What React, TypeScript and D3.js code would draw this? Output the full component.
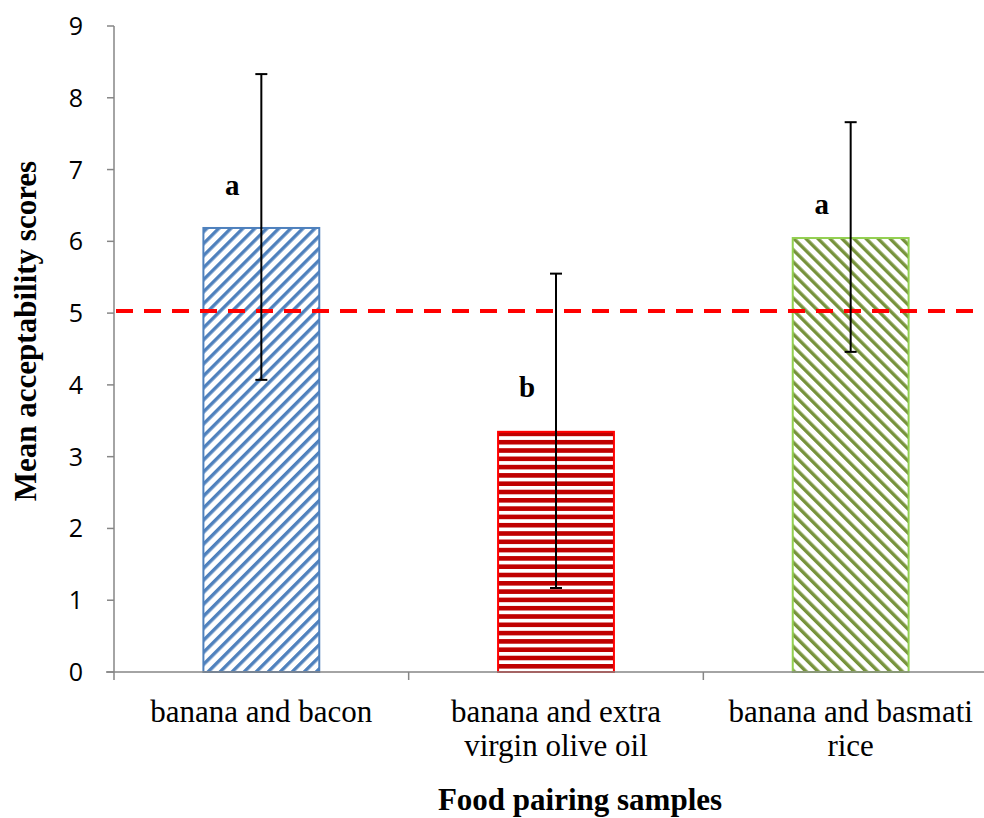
import React from 'react';
import * as d3 from 'd3';

const categories = ['banana and bacon', 'banana and extra virgin olive oil', 'banana and basmati rice'];
const labelLines = [['banana and bacon'], ['banana and extra', 'virgin olive oil'], ['banana and basmati', 'rice']];
const means = [6.2, 3.36, 6.06];
const errors = [2.13, 2.19, 1.6];
const letters = ['a', 'b', 'a'];
const letterValues = [6.77, 3.96, 6.5];
const yTicks = [0, 1, 2, 3, 4, 5, 6, 7, 8, 9];
const threshold = 5.03;

const W = 984;
const H = 818;
const left = 114;
const right = 998;
const top = 26;
const bottom = 672;
const serif = "'Liberation Serif', 'Times New Roman', serif";

export default function App() {
  const x = d3.scaleBand<string>().domain(categories).range([left, right]).paddingInner(0.6).paddingOuter(0.3);
  const band = d3.scaleBand<string>().domain(categories).range([left, right]);
  const y = d3.scaleLinear().domain([0, 9]).range([bottom, top]);
  const fills = ['url(#pBlue)', 'url(#pRed)', 'url(#pGreen)'];
  const strokes = ['#4F81BD', '#FF0000', '#92D050'];
  const axisColor = '#868686';
  const bw = x.bandwidth();

  return (
    <svg width={W} height={H} style={{ position: 'absolute', left: 0, top: 0 }}>
      <defs>
        <pattern id="pBlue" width="8.5" height="8.5" patternUnits="userSpaceOnUse" patternTransform="rotate(45)">
          <rect width="8.5" height="8.5" fill="white" />
          <rect width="3.4" height="8.5" fill="#4F81BD" />
        </pattern>
        <pattern id="pRed" width="8" height="8.3" patternUnits="userSpaceOnUse">
          <rect width="8" height="8.3" fill="white" />
          <rect width="8" height="4.6" fill="#C00000" />
        </pattern>
        <pattern id="pGreen" width="8.5" height="8.5" patternUnits="userSpaceOnUse" patternTransform="rotate(-45)">
          <rect width="8.5" height="8.5" fill="white" />
          <rect width="3.4" height="8.5" fill="#77933C" />
        </pattern>
      </defs>

      {/* bars */}
      {categories.map((c, i) => (
        <rect key={c} x={x(c)! + 1} y={y(means[i]) + 1} width={bw - 2} height={y(0) - y(means[i]) - 1}
          fill={fills[i]} stroke={strokes[i]} strokeWidth={2} />
      ))}

      {/* axes */}
      <line x1={left} x2={left} y1={top} y2={bottom} stroke={axisColor} strokeWidth={1.5} />
      <line x1={left - 8} x2={W} y1={bottom} y2={bottom} stroke={axisColor} strokeWidth={1.5} />
      {yTicks.map(t => (
        <g key={t}>
          <line x1={left - 7} x2={left} y1={y(t)} y2={y(t)} stroke={axisColor} strokeWidth={1.5} />
          <text x={83} y={y(t) + 9} textAnchor="end" fontFamily="'Open Sans', sans-serif" fontSize={25} fill="#000">{t}</text>
        </g>
      ))}
      {categories.map(c => (
        <line key={c} x1={band(c)!} x2={band(c)!} y1={bottom} y2={bottom + 8} stroke={axisColor} strokeWidth={1.5} />
      ))}

      {/* threshold line */}
      <line x1={left} x2={W - 2} y1={y(threshold)} y2={y(threshold)} stroke="#FF0000" strokeWidth={4} strokeDasharray="17,11" strokeDashoffset={-2} />

      {/* error bars */}
      {categories.map((c, i) => {
        const cx = x(c)! + bw / 2;
        const y1 = y(means[i] + errors[i]);
        const y2 = y(means[i] - errors[i]);
        return (
          <g key={c} stroke="#000" strokeWidth={2}>
            <line x1={cx} x2={cx} y1={y1} y2={y2} />
            <line x1={cx - 6} x2={cx + 6} y1={y1} y2={y1} />
            <line x1={cx - 6} x2={cx + 6} y1={y2} y2={y2} />
          </g>
        );
      })}

      {/* significance letters */}
      {categories.map((c, i) => (
        <text key={c} x={x(c)! + bw / 2 - 29} y={y(letterValues[i]) + 9} textAnchor="middle"
          fontFamily={serif} fontWeight="bold" fontSize={29}>{letters[i]}</text>
      ))}

      {/* category labels */}
      {categories.map((c, i) => (
        <text key={c} x={band(c)! + band.bandwidth() / 2} y={722} textAnchor="middle"
          fontFamily={serif} fontSize={31}>
          {labelLines[i].map((l, j) => (
            <tspan key={j} x={band(c)! + band.bandwidth() / 2} dy={j === 0 ? 0 : 34}>{l}</tspan>
          ))}
        </text>
      ))}

      {/* axis titles */}
      <text x={580} y={810} textAnchor="middle" fontFamily={serif}
        fontWeight="bold" fontSize={31}>Food pairing samples</text>
      <text transform={`translate(36,331) rotate(-90)`} textAnchor="middle"
        fontFamily={serif} fontWeight="bold" fontSize={31}>Mean acceptability scores</text>
    </svg>
  );
}
